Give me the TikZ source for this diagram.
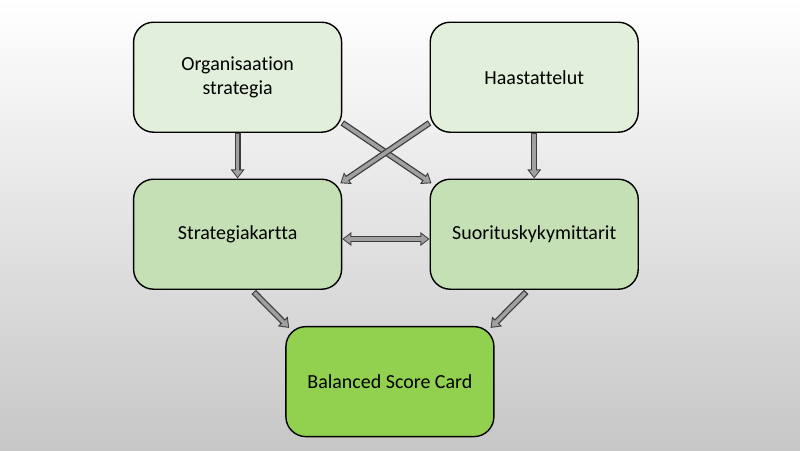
\documentclass[tikz,border=0pt]{standalone}
\usepackage{fontspec}
\setmainfont[Ligatures=NoCommon]{Carlito}
\usepackage{tikz}
\usetikzlibrary{arrows.meta,positioning,calc}
\usepackage{xcolor}
\definecolor{palegreen}{RGB}{226,239,218}
\definecolor{midgreen}{RGB}{197,224,180}
\definecolor{limegreen}{RGB}{146,208,80}
\definecolor{edgegray}{RGB}{60,60,60}
\definecolor{shaftgray}{RGB}{160,160,160}
\tikzset{
  box/.style={rectangle, rounded corners=0.5cm, draw=black, line width=1pt, fill=palegreen,
              minimum width=5.2cm, minimum height=2.75cm, align=center, font=\fontsize{14.2}{17}\selectfont},
  boxmid/.style={box, fill=midgreen},
  boxmain/.style={box, fill=limegreen},
  fatarrow/.style={line width=4.4pt, draw=edgegray, -{Triangle[length=6.5pt,width=9.5pt]},
                   postaction={draw=shaftgray, line width=2.6pt, -{Triangle[length=4.6pt,width=6.6pt]},
                               shorten >=1.1pt, shorten <=0.8pt}},
  fatboth/.style={line width=4.4pt, draw=edgegray, {Triangle[length=6.5pt,width=9.5pt]}-{Triangle[length=6.5pt,width=9.5pt]},
                  postaction={draw=shaftgray, line width=2.6pt, {Triangle[length=4.6pt,width=6.6pt]}-{Triangle[length=4.6pt,width=6.6pt]},
                              shorten >=1.1pt, shorten <=1.1pt}},
}
\begin{document}
\begin{tikzpicture}
% background
\fill[top color=white, bottom color=black!22] (0,0) rectangle (20,-11.25);
\useasboundingbox (0,0) rectangle (20,-11.25);

\node[box] (org) at (5.94,-1.93) {Organisaation\\strategia};
\node[box, right=2.18cm of org] (haast) {Haastattelut};
\node[boxmid, below=1.14cm of org] (strat) {Strategiakartta};
\node[boxmid, below=1.14cm of haast] (suor) {Suorituskykymittarit};
\node[boxmain, below=0.9cm of $(strat.south)!0.5!(suor.south)$, xshift=0.1cm] (bsc) {Balanced Score Card};

\draw[fatarrow] (org.south) -- (strat.north);
\draw[fatarrow] (haast.south) -- (suor.north);
\draw[fatarrow] ($(org.south east)+(0,0.25)$) -- ($(suor.north west)+(0.05,-0.12)$);
\draw[fatarrow] ($(haast.south west)+(0,0.25)$) -- ($(strat.north east)+(-0.05,-0.12)$);
\draw[fatboth] ($(strat.east)+(0,-0.12)$) -- ($(suor.west)+(0,-0.12)$);
\draw[fatarrow] ($(strat.south)+(0.4,-0.05)$) -- ($(bsc.north west)+(0.1,-0.05)$);
\draw[fatarrow] ($(suor.south)+(-0.2,-0.05)$) -- ($(bsc.north east)+(-0.1,-0.05)$);
\end{tikzpicture}
\end{document}
